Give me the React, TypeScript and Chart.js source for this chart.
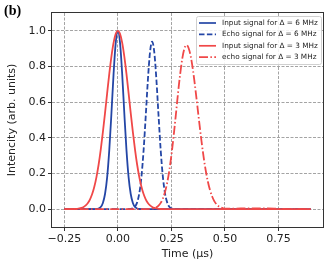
import { useEffect, useRef } from "react";
import { Chart, registerables } from "chart.js";

Chart.register(...registerables);

// ---- data ----
const seriesLabels = [
  "Input signal for Δ = 6 MHz",
  "Echo signal for Δ = 6 MHz",
  "Input signal for Δ = 3 MHz",
  "echo signal for Δ = 3 MHz",
];

const xTicks = [-0.25, 0, 0.25, 0.5, 0.75];
const yTicks = [0, 0.2, 0.4, 0.6, 0.8, 1.0];

const timeBlueIn = [
  -0.25, -0.15, -0.1, -0.09, -0.08, -0.07, -0.06, -0.05, -0.04, -0.03, -0.02, -0.01, 0,
  0.01, 0.02, 0.03, 0.04, 0.05, 0.06, 0.07, 0.08, 0.09, 0.1, 0.15, 0.9,
];
const intensityBlueIn = [
  0, 0, 0.001, 0.004, 0.012, 0.035, 0.085, 0.18, 0.334, 0.539, 0.76, 0.934, 1.0,
  0.934, 0.76, 0.539, 0.334, 0.18, 0.085, 0.035, 0.012, 0.004, 0.001, 0, 0,
];

const timeBlueEcho = [
  -0.25, 0.0, 0.06, 0.07, 0.08, 0.09, 0.1, 0.11, 0.12, 0.13, 0.14, 0.15, 0.16,
  0.17, 0.18, 0.19, 0.2, 0.21, 0.22, 0.23, 0.24, 0.25, 0.26, 0.3, 0.9,
];
const intensityBlueEcho = [
  0, 0, 0.0013, 0.0046, 0.014, 0.038, 0.089, 0.182, 0.329, 0.521, 0.723, 0.88, 0.94,
  0.88, 0.723, 0.521, 0.329, 0.182, 0.089, 0.038, 0.014, 0.0046, 0.0013, 0, 0,
];

const timeRedIn = [
  -0.25, -0.2, -0.19, -0.18, -0.17, -0.16, -0.15, -0.14, -0.13, -0.12, -0.11, -0.1,
  -0.09, -0.08, -0.07, -0.06, -0.05, -0.04, -0.03, -0.02, -0.01, 0, 0.01, 0.02, 0.03,
  0.04, 0.05, 0.06, 0.07, 0.08, 0.09, 0.1, 0.11, 0.12, 0.13, 0.14, 0.15, 0.16, 0.17,
  0.18, 0.19, 0.2, 0.25, 0.9,
];
const intensityRedIn = [
  0, 0.001, 0.002, 0.0039, 0.007, 0.0124, 0.0211, 0.0347, 0.0551, 0.0847, 0.1256, 0.18,
  0.249, 0.334, 0.432, 0.539, 0.651, 0.76, 0.857, 0.934, 0.983, 1.0, 0.983, 0.934, 0.857,
  0.76, 0.651, 0.539, 0.432, 0.334, 0.249, 0.18, 0.1256, 0.0847, 0.0551, 0.0347, 0.0211,
  0.0124, 0.007, 0.0039, 0.002, 0.001, 0, 0,
];

const timeRedEcho = [
  -0.25, 0.1, 0.16, 0.17, 0.18, 0.19, 0.2, 0.21, 0.22, 0.23, 0.24, 0.25, 0.26, 0.27,
  0.28, 0.29, 0.3, 0.31, 0.32, 0.33, 0.34, 0.35, 0.36, 0.37, 0.38, 0.39, 0.4, 0.41,
  0.42, 0.43, 0.44, 0.45, 0.46, 0.47, 0.48, 0.49, 0.5, 0.55, 0.6, 0.65, 0.7, 0.75,
  0.8, 0.9,
];
const intensityRedEcho = [
  0, 0, 0.0028, 0.0056, 0.0109, 0.0201, 0.0354, 0.0595, 0.0957, 0.147, 0.216, 0.3035,
  0.407, 0.522, 0.641, 0.75, 0.84, 0.899, 0.92, 0.904, 0.857, 0.784, 0.692, 0.59,
  0.485, 0.385, 0.2945, 0.2176, 0.155, 0.1067, 0.0709, 0.0454, 0.0281, 0.0168, 0.0097,
  0.0054, 0.0029, 0.003, 0.005, 0.004, 0.005, 0.002, 0, 0,
];

const BLUE = "#2446a6";
const RED = "#f04848";
const FONT = "DejaVu Sans";

const toPoints = (t: number[], v: number[]) => t.map((x, i) => ({ x, y: v[i] }));

const decorPlugin = {
  id: "decor",
  afterDraw(chart: any) {
    const { ctx, chartArea: a } = chart;
    ctx.save();
    // frame (spines)
    ctx.setLineDash([]);
    ctx.strokeStyle = "#333";
    ctx.lineWidth = 1;
    const l = Math.round(a.left) - 0.5;
    const t = Math.round(a.top) - 0.5;
    const r = Math.round(a.right) + 0.5;
    const b = Math.round(a.bottom) + 0.5;
    ctx.strokeRect(l, t, r - l, b - t);

    // legend
    const bw = 125;
    const bh = 48;
    const bx = a.right - 2 - bw;
    const by = a.top + 3;
    ctx.beginPath();
    ctx.roundRect(bx + 0.5, by + 0.5, bw, bh, 2);
    ctx.fillStyle = "rgba(255,255,255,0.85)";
    ctx.fill();
    ctx.strokeStyle = "#d0d0d0";
    ctx.stroke();
    ctx.font = `7.3px "${FONT}"`;
    ctx.textBaseline = "middle";
    ctx.textAlign = "left";
    chart.data.datasets.forEach((ds: any, i: number) => {
      const y = by + 7 + i * 11.4;
      ctx.beginPath();
      ctx.setLineDash(ds.borderDash || []);
      ctx.strokeStyle = ds.borderColor;
      ctx.lineWidth = 1.7;
      ctx.moveTo(bx + 3, y);
      ctx.lineTo(bx + 20, y);
      ctx.stroke();
      ctx.setLineDash([]);
      ctx.fillStyle = "#222";
      ctx.fillText(ds.label, bx + 26, y);
    });

    // panel label
    ctx.font = `bold 14px "Liberation Serif"`;
    ctx.fillStyle = "#000";
    ctx.textBaseline = "alphabetic";
    ctx.fillText("(b)", 4, 15);
    ctx.restore();
  },
};

export default function App() {
  const ref = useRef<HTMLCanvasElement>(null);
  useEffect(() => {
    const chart = new Chart(ref.current!, {
      type: "line",
      data: {
        datasets: [
          {
            label: seriesLabels[0],
            data: toPoints(timeBlueIn, intensityBlueIn),
            borderColor: BLUE,
            borderDash: [],
            order: 4,
          },
          {
            label: seriesLabels[1],
            data: toPoints(timeBlueEcho, intensityBlueEcho),
            borderColor: BLUE,
            borderDash: [5.5, 2.4],
            order: 3,
          },
          {
            label: seriesLabels[2],
            data: toPoints(timeRedIn, intensityRedIn),
            borderColor: RED,
            borderDash: [],
            order: 2,
          },
          {
            label: seriesLabels[3],
            data: toPoints(timeRedEcho, intensityRedEcho),
            borderColor: RED,
            borderDash: [9, 2.4, 1.5, 2.4],
            order: 1,
          },
        ] as any,
      },
      options: {
        animation: false,
        responsive: false,
        devicePixelRatio: 1,
        layout: { padding: { top: 13, right: 9, left: 0, bottom: 0 } },
        elements: {
          line: { borderWidth: 1.8, cubicInterpolationMode: "monotone", fill: false },
          point: { radius: 0, hoverRadius: 0 },
        },
        plugins: {
          legend: { display: false },
          tooltip: { enabled: false },
        },
        scales: {
          x: {
            type: "linear",
            min: -0.3075,
            max: 0.9575,
            afterBuildTicks: (s: any) => {
              s.ticks = xTicks.map((value) => ({ value }));
            },
            afterFit: (s: any) => {
              s.height = 38;
            },
            ticks: {
              font: { family: FONT, size: 11 },
              color: "#222",
              padding: 2,
              maxRotation: 0,
              autoSkip: false,
              callback: (v: any) => Number(v).toFixed(2).replace("-", "−"),
            },
            grid: {
              color: "#9a9a9a",
              lineWidth: 0.9,
              tickLength: 4,
              tickColor: "#333",
              tickWidth: 1,
              tickBorderDash: [],
            } as any,
            border: { display: false, dash: [3, 1.5] },
            title: {
              display: true,
              text: "Time (μs)",
              font: { family: FONT, size: 11 },
              color: "#222",
              padding: 4,
            },
          },
          y: {
            type: "linear",
            min: -0.1,
            max: 1.1,
            afterBuildTicks: (s: any) => {
              s.ticks = yTicks.map((value) => ({ value }));
            },
            afterFit: (s: any) => {
              s.width = 52;
            },
            ticks: {
              font: { family: FONT, size: 11 },
              color: "#222",
              padding: 2,
              autoSkip: false,
              callback: (v: any) => Number(v).toFixed(1),
            },
            grid: {
              color: "#9a9a9a",
              lineWidth: 0.9,
              tickLength: 4,
              tickColor: "#333",
              tickWidth: 1,
              tickBorderDash: [],
            } as any,
            border: { display: false, dash: [3, 1.5] },
            title: {
              display: true,
              text: "Intencity (arb. units)",
              font: { family: FONT, size: 11 },
              color: "#222",
              padding: 6,
            },
          },
        },
      },
      plugins: [decorPlugin],
    });
    return () => chart.destroy();
  }, []);
  return (
    <div style={{ position: "fixed", left: 0, top: 0, width: 332, height: 265, background: "#fff" }}>
      <canvas ref={ref} width={332} height={265} style={{ display: "block" }} />
    </div>
  );
}
